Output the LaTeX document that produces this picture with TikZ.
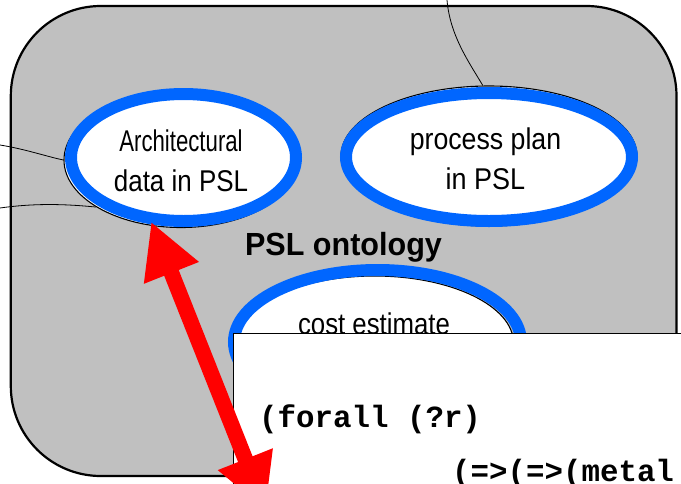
\documentclass[tikz,border=0pt]{standalone}
\usepackage{fontspec}
\usepackage{graphicx}
\setmainfont{Liberation Sans}
\newfontfamily\codefont{Liberation Mono}
\usetikzlibrary{arrows.meta,shapes.geometric}
\definecolor{panelgray}{HTML}{C0C0C0}
\definecolor{ringblue}{HTML}{0066FF}
\definecolor{arrowred}{HTML}{FF0000}
\pgfdeclarelayer{panel}
\pgfdeclarelayer{links}
\pgfsetlayers{panel,links,main}

\begin{document}
\begin{tikzpicture}[x=1pt,y=-1pt,
  ring/.style={ellipse, draw=ringblue, line width=12pt, inner sep=0pt},
  rim/.style={ellipse, draw=black, line width=1.1pt, fill=white, inner sep=0pt},
  ringtext/.style={font=\fontsize{30}{40}\selectfont, align=center, inner sep=0pt},
  link/.style={draw=black, line width=0.8pt},
  codeline/.style={font=\codefont\bfseries\fontsize{30.8}{36}\selectfont, anchor=base west, inner sep=0pt},
  redarrow/.style={draw=arrowred, line width=15.6pt,
    {Triangle[length=55pt,width=55pt]}-{Triangle[length=55pt,width=55pt]}},
]
\useasboundingbox (0,0) rectangle (681,483);

% ontology panel
\begin{pgfonlayer}{panel}
  \fill[white] (0,0) rectangle (681,483);
  \draw[fill=panelgray, line width=2.2pt, rounded corners=90pt] (10.8,6) rectangle (676.5,476);
\end{pgfonlayer}

% the three ontologies
\node[rim, minimum width=234pt, minimum height=135pt] (archrim) at (181,160) {};
\node[ring, minimum width=225pt, minimum height=127pt] (arch) at (183.5,157.5) {};
\node[ringtext] (archtext) at (181,160.75)
  {\scalebox{0.74}[1]{Architectural}\\\scalebox{0.865}[1]{data in PSL}};

\node[rim, minimum width=296pt, minimum height=140pt] (procrim) at (489,156) {};
\node[ring, minimum width=286pt, minimum height=128pt] (proc) at (489,157) {};
\node[ringtext] (proctext) at (485.5,159.25)
  {\scalebox{0.89}[1]{process plan}\\\scalebox{0.9}[1]{in PSL}};

\node[rim, minimum width=278pt, minimum height=134pt] (costrim) at (374.5,343) {};
\node[ring, minimum width=287pt, minimum height=144pt] (cost) at (377.5,342) {};
\node[font=\fontsize{30}{36}\selectfont, anchor=base, inner sep=0pt] (costtext) at (374,334.5)
  {\scalebox{0.86}[1]{cost estimate}};

\node[font=\bfseries\fontsize{32}{36}\selectfont, anchor=base, inner sep=0pt] (title) at (343.5,255)
  {\scalebox{0.955}[1]{PSL ontology}};

% incoming links
\begin{pgfonlayer}{links}
  \coordinate (lin1) at (0,145);
  \coordinate (lin2) at (0,208);
  \coordinate (lin3) at (447,0);
  \draw[link] (lin1) .. controls +(25,4) and +(-15,-3) .. (archrim.west);
  \draw[link] (lin2) .. controls +(35,-5) and +(-30,-3) .. (archrim.209);
  \draw[link] (lin3) .. controls +(3,35) and +(-15,-25) .. (procrim.95);
\end{pgfonlayer}

% axiom box
\node[draw=black, line width=1.3pt, fill=white, anchor=north west,
      minimum width=520pt, minimum height=220pt, inner sep=0pt] (codebox) at (233,333) {};
\node[codeline] (code1) at (259,427) {(forall (?r)};
\node[codeline] (code2) at (452,481) {(=>(=>(metal};

% mapping between the architectural data and the axioms
\coordinate (armend) at (265.6,510.3);
\draw[redarrow, shorten <=-3pt] (arch.245) -- (armend);
\end{tikzpicture}
\end{document}
